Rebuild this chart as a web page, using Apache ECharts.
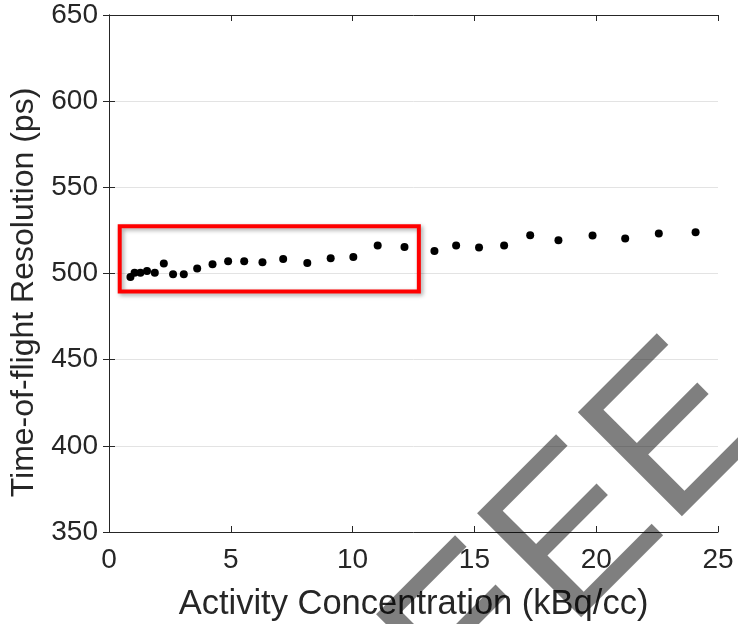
<!DOCTYPE html>
<html>
<head>
<meta charset="utf-8">
<title>Time-of-flight resolution vs activity</title>
<script src="https://cdn.jsdelivr.net/npm/echarts@6/dist/echarts.min.js"></script>
<style>
  html, body { margin: 0; padding: 0; background: #fff; }
  #chart { width: 738px; height: 624px; }
</style>
</head>
<body>
<div id="chart"></div>
<script>
// activity concentration (kBq/cc)
var concentration = [0.88, 1.05, 1.29, 1.56, 1.88, 2.25, 2.63, 3.07, 3.62, 4.25,
  4.89, 5.55, 6.30, 7.15, 8.14, 9.10, 10.03, 11.03, 12.13, 13.36,
  14.25, 15.19, 16.22, 17.29, 18.45, 19.85, 21.19, 22.57, 24.08];
// time-of-flight resolution (ps)
var resolution = [498.0, 500.5, 500.5, 501.5, 500.5, 505.8, 499.6, 499.6, 502.9, 505.4,
  507.1, 507.1, 506.5, 508.4, 506.1, 508.9, 509.6, 516.2, 515.4, 513.1,
  516.2, 515.1, 516.2, 522.2, 519.3, 522.0, 520.3, 523.2, 524.0];

var xRange = [0, 25, 5];      // min, max, step
var yRange = [350, 650, 50];
var highlightX = [0.44, 12.72]; // red box, data units
var highlightY = [489.5, 527.4];
var watermarkText = "EEE";

var font = "Liberation Sans";
var ink = "#262626";

var points = concentration.map(function (x, i) {
  return [x, resolution[i]];
});

function mirrorAxis(pos, range) {
  return {
    type: "value",
    position: pos,
    min: range[0],
    max: range[1],
    interval: range[2],
    axisLine: { show: true, lineStyle: { color: ink, width: 1 } },
    axisTick: { show: true, inside: true, length: 6, lineStyle: { color: ink } },
    axisLabel: { show: false },
    splitLine: { show: false }
  };
}

var chart = echarts.init(document.getElementById("chart"), null, { renderer: "canvas" });

chart.setOption({
  backgroundColor: "#fff",
  animation: false,
  textStyle: { fontFamily: font },
  grid: { left: 109, right: 20, top: 15, bottom: 92, containLabel: false, outerBoundsMode: "none" },
  xAxis: [
    {
      type: "value",
      position: "bottom",
      min: xRange[0],
      max: xRange[1],
      interval: xRange[2],
      name: "Activity Concentration (kBq/cc)",
      nameLocation: "middle",
      nameGap: 55,
      nameTextStyle: { fontSize: 34.5, color: ink, fontFamily: font },
      axisLine: { lineStyle: { color: ink, width: 1 } },
      axisTick: { inside: true, length: 6, lineStyle: { color: ink } },
      axisLabel: { fontSize: 28, color: ink, margin: 14, fontFamily: font },
      splitLine: { show: false }
    },
    mirrorAxis("top", xRange)
  ],
  yAxis: [
    {
      type: "value",
      position: "left",
      min: yRange[0],
      max: yRange[1],
      interval: yRange[2],
      name: "Time-of-flight Resolution (ps)",
      nameLocation: "middle",
      nameGap: 65,
      // extra padding at the text end moves the label down the axis
      nameTextStyle: { fontSize: 32, color: ink, fontFamily: font, padding: [0, 38, 0, 0] },
      axisLine: { show: true, lineStyle: { color: ink, width: 1 } },
      axisTick: { show: true, inside: true, length: 6, lineStyle: { color: ink } },
      axisLabel: { fontSize: 28, color: ink, margin: 11, fontFamily: font },
      splitLine: { show: true, lineStyle: { color: "#e3e3e3", width: 1 } }
    },
    mirrorAxis("right", yRange)
  ],
  series: [
    {
      type: "scatter",
      data: points,
      symbol: "circle",
      symbolSize: 8,
      itemStyle: { color: "#000", opacity: 1 },
      markArea: {
        silent: true,
        itemStyle: {
          color: "rgba(0,0,0,0)",
          borderColor: "#ff0000",
          borderWidth: 4,
          shadowBlur: 4,
          shadowColor: "rgba(0,0,0,0.35)",
          shadowOffsetX: 2,
          shadowOffsetY: 2
        },
        data: [[
          { coord: [highlightX[0], highlightY[1]] },
          { coord: [highlightX[1], highlightY[0]] }
        ]]
      }
    }
  ],
  graphic: [
    {
      type: "text",
      x: 426,
      y: 689,
      rotation: Math.PI / 4,
      z: 100,
      silent: true,
      style: {
        text: watermarkText,
        x: 0,
        y: 0,
        fontSize: 214,
        fontFamily: font,
        fill: "rgba(0,0,0,0.5)",
        align: "left",
        verticalAlign: "middle"
      }
    }
  ]
});
</script>
</body>
</html>
